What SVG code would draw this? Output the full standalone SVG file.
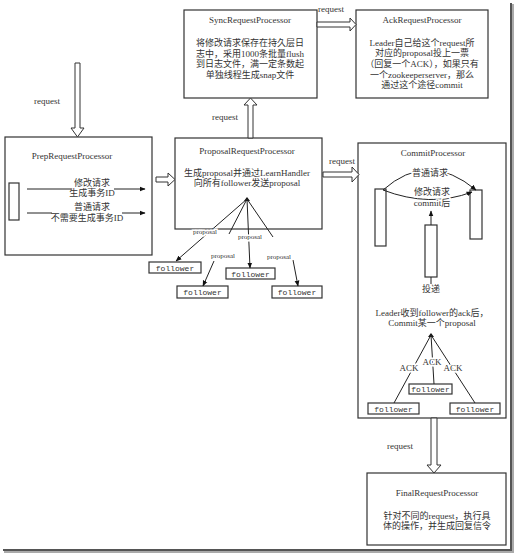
<svg xmlns="http://www.w3.org/2000/svg" width="515" height="554" viewBox="0 0 515 554">
<style>
text{font-family:"Liberation Serif","Noto Sans CJK SC",serif;font-size:9px;fill:#333;text-anchor:middle}
.sm{font-size:7px}
.fl{font-size:9.5px;font-family:"Liberation Mono","Noto Sans CJK SC",monospace;font-size:8px}
.box{fill:#fff;stroke:#333;stroke-width:1.2}
.ln{fill:none;stroke:#222;stroke-width:1}
.hol{fill:#fff;stroke:#333;stroke-width:1}
.halo{stroke:#fff;stroke-width:3;paint-order:stroke}
</style>
<defs>
<marker id="ah" viewBox="0 0 10 10" refX="9" refY="5" markerWidth="6" markerHeight="6" orient="auto"><path d="M0,1 L10,5 L0,9 z" fill="#111"/></marker>
</defs>
<rect x="0" y="0" width="515" height="554" fill="#fff"/>
<!-- frame shadow -->
<rect x="510" y="3" width="2" height="549" fill="#555"/>
<rect x="512" y="4" width="2" height="548" fill="#aaa"/>
<rect x="3" y="549" width="509" height="2" fill="#555"/>
<rect x="4" y="551" width="510" height="2" fill="#aaa"/>

<g id="sync">
<rect class="box" x="184" y="10" width="133" height="88"/>
<text x="250" y="23">SyncRequestProcessor</text>
<text x="250" y="46">将修改请求保存在持久层日</text>
<text x="250" y="57">志中，采用1000条批量flush</text>
<text x="250" y="67">到日志文件，满一定条数起</text>
<text x="250" y="78">单独线程生成snap文件</text>
</g>

<g id="ack">
<rect class="box" x="356" y="10" width="132" height="88"/>
<text x="422" y="23">AckRequestProcessor</text>
<text x="422" y="46">Leader自己给这个request所</text>
<text x="422" y="56">对应的proposal投上一票</text>
<text x="422" y="67">（回复一个ACK），如果只有</text>
<text x="422" y="78">一个zookeeperserver，那么</text>
<text x="422" y="88">通过这个途径commit</text>
</g>

<g id="prep">
<rect class="box" x="5" y="137" width="147" height="118"/>
<text x="72" y="159">PrepRequestProcessor</text>
<rect class="box" x="9" y="183" width="10" height="37"/>
<text x="92" y="186">修改请求</text>
<text x="92" y="196">生成事务ID</text>
<text x="92" y="210">普通请求</text>
<text x="87" y="221">不需要生成事务ID</text>
</g>

<g id="proposal">
<rect class="box" x="175" y="138" width="147" height="91"/>
<text x="247" y="154">ProposalRequestProcessor</text>
<text x="247" y="176">生成proposal并通过LearnHandler</text>
<text x="247" y="186">向所有follower发送proposal</text>
</g>

<g id="followers-p">
<rect class="box" x="149" y="262" width="52" height="11"/>
<text class="fl" x="175" y="270.5">follower</text>
<rect class="box" x="177" y="286" width="51" height="12"/>
<text class="fl" x="202.5" y="295">follower</text>
<rect class="box" x="226" y="268" width="49" height="11"/>
<text class="fl" x="250.5" y="276.5">follower</text>
<rect class="box" x="272" y="286" width="50" height="12"/>
<text class="fl" x="297" y="295">follower</text>
</g>

<g id="commit">
<rect class="box" x="358" y="143" width="148" height="275"/>
<text x="433" y="156">CommitProcessor</text>
<rect class="box" x="375" y="189" width="11" height="57"/>
<rect class="box" x="470" y="190" width="12" height="49"/>
<rect class="box" x="425" y="225" width="12" height="52"/>
</g>

<g id="followers-c">
<rect class="box" x="409" y="384" width="43" height="10"/>
<text class="fl" x="430.5" y="392">follower</text>
<rect class="box" x="368" y="403" width="51" height="11"/>
<text class="fl" x="393.5" y="411.5">follower</text>
<rect class="box" x="450" y="403" width="50" height="11"/>
<text class="fl" x="475" y="411.5">follower</text>
</g>

<g id="final">
<rect class="box" x="367" y="473" width="139" height="72"/>
<text x="437" y="496">FinalRequestProcessor</text>
<text x="437" y="519">针对不同的request，执行具</text>
<text x="437" y="529">体的操作，并生成回复信令</text>
</g>

<g id="connectors">
<!-- hollow arrows -->
<polygon class="hol" points="75,63 80,63 80,128 84,128 77.5,137 71,128 75,128"/>
<text x="47" y="104">request</text>
<polygon class="hol" points="317,22 350,22 350,18 356,24.5 350,31 350,27 317,27"/>
<text x="331" y="12">request</text>
<polygon class="hol" points="248,138 248,105 244,105 250.5,98 257,105 253,105 253,138"/>
<text x="225" y="120">request</text>
<polygon class="hol" points="156,177 168,177 168,173 175,179.5 168,186 168,182 156,182"/>
<polygon class="hol" points="323,172 352,172 352,167 359,174.5 352,182 352,177 323,177"/>
<text x="342" y="164">request</text>
<polygon class="hol" points="431,418 431,465 427,465 434,473 441,465 437,465 437,418"/>
<text x="400" y="449">request</text>

<!-- prep internal arrows -->
<line class="ln" x1="27" y1="189" x2="71" y2="189"/>
<line class="ln" x1="114" y1="189" x2="145" y2="189" marker-end="url(#ah)"/>
<line class="ln" x1="27" y1="213" x2="52" y2="213"/>
<line class="ln" x1="122" y1="213" x2="145" y2="213" marker-end="url(#ah)"/>

<!-- proposal fan -->
<path d="M244,201 L247,197 L250,201 z" fill="#111"/>
<line class="ln" x1="247" y1="199" x2="176" y2="261" marker-end="url(#ah)"/>
<line class="ln" x1="247" y1="199" x2="229" y2="234"/>
<line class="ln" x1="247" y1="199" x2="250" y2="268" marker-end="url(#ah)"/>
<line class="ln" x1="247" y1="199" x2="273" y2="237"/>
<line class="ln" x1="214" y1="261" x2="203" y2="286" marker-end="url(#ah)"/>
<line class="ln" x1="293" y1="260" x2="298" y2="286" marker-end="url(#ah)"/>
<text class="sm halo" x="205" y="234">proposal</text>
<text class="sm halo" x="250" y="239">proposal</text>
<text class="sm halo" x="223" y="258">proposal</text>
<text class="sm halo" x="279" y="259">proposal</text>

<!-- commit internal -->
<path class="ln" d="M383,190 Q428,150 476,190" marker-end="url(#ah)"/>
<text class="halo" x="430" y="176">普通请求</text>
<path class="ln" d="M383,190 Q430,208 472,192" marker-end="url(#ah)"/>
<text class="halo" x="432" y="195">修改请求</text>
<text class="halo" x="432" y="206">commit后</text>
<line class="ln" x1="431" y1="225" x2="431" y2="211" marker-end="url(#ah)"/>
<line class="ln" x1="431" y1="277" x2="431" y2="284"/>
<text x="431" y="292">投递</text>
<text x="432" y="316">Leader收到follower的ack后，</text>
<text x="432" y="326">Commit某一个proposal</text>
<path d="M428,337 L431,333 L434,337 z" fill="#111"/>
<line class="ln" x1="431" y1="335" x2="394" y2="403"/>
<line class="ln" x1="431" y1="335" x2="434" y2="384"/>
<line class="ln" x1="431" y1="335" x2="475" y2="403"/>
<text class="halo" x="409" y="371">ACK</text>
<text class="halo" x="432" y="365">ACK</text>
<text class="halo" x="453" y="371">ACK</text>
</g>
</svg>
